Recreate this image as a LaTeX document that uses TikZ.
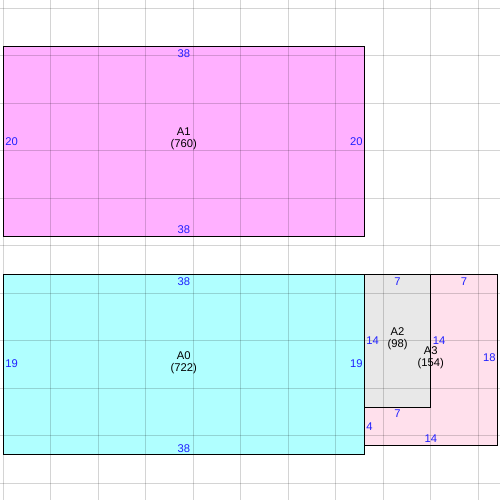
\documentclass[tikz,border=0pt]{standalone}
\usepackage{fontspec}
\setmainfont{Liberation Sans}
\begin{document}
\begin{tikzpicture}[x=0.25cm,y=-0.25cm,
  font=\fontsize{8.4}{9}\selectfont,
  box/.style={draw=black,line width=0.8pt},
  dimlbl/.style={text=lblblue,inner sep=0pt},
  namelbl/.style={align=center,inner sep=0pt,text=black},
  gridline/.style={draw=black,draw opacity=0.17,line width=0.75pt}]
\definecolor{lblblue}{RGB}{32,32,255}
\definecolor{pinkA}{RGB}{255,176,255}
\definecolor{cyanA}{RGB}{176,255,255}
\definecolor{grayA}{RGB}{232,232,232}
\definecolor{roseA}{RGB}{255,224,236}
\useasboundingbox[fill=white] (-0.347,-0.874) rectangle (52.285,51.758);
% shapes
\path[box,fill=pinkA] (0,4) rectangle (38,24);
\path[box,fill=roseA] (45,28) -- (52,28) -- (52,46) -- (38,46) -- (38,42) -- (45,42) -- cycle;
\path[box,fill=cyanA] (0,28) rectangle (38,47);
\path[box,fill=grayA] (38,28) rectangle (45,42);
% grid overlay
\foreach \k in {0,5,...,50} {
  \path[gridline] (\k,-0.874) -- (\k,51.758);
  \path[gridline] (-0.347,\k) -- (52.285,\k);
}
% A1
\node[namelbl] (a1) at (19,13.75) {A1\\(760)};
\node[dimlbl] (a1t) at (19,4.75) {38};
\node[dimlbl] (a1b) at (19,23.25) {38};
\node[dimlbl,anchor=west] (a1l) at (0.2,14) {20};
\node[dimlbl,anchor=east] (a1r) at (37.85,14) {20};
% A0
\node[namelbl] (a0) at (19,37.3) {A0\\(722)};
\node[dimlbl] (a0t) at (19,28.75) {38};
\node[dimlbl] (a0b) at (19,46.3) {38};
\node[dimlbl,anchor=west] (a0l) at (0.2,37.45) {19};
\node[dimlbl,anchor=east] (a0r) at (37.85,37.45) {19};
% A2
\node[namelbl] (a2) at (41.5,34.8) {A2\\(98)};
\node[dimlbl] (a2t) at (41.5,28.75) {7};
\node[dimlbl,anchor=west] (a2l) at (38.2,35) {14};
% A3
\node[namelbl] (a3) at (45,36.8) {A3\\(154)};
\node[dimlbl] (a3t) at (48.5,28.75) {7};
\node[dimlbl,anchor=east] (a3r) at (51.85,36.8) {18};
\node[dimlbl] (a3b) at (45,45.25) {14};
\node[dimlbl,anchor=west] (a3l) at (38.2,44) {4};
\node[dimlbl,anchor=west] (a3i) at (45.2,35) {14};
\node[dimlbl] (a3h) at (41.5,42.7) {7};
\end{tikzpicture}
\end{document}
